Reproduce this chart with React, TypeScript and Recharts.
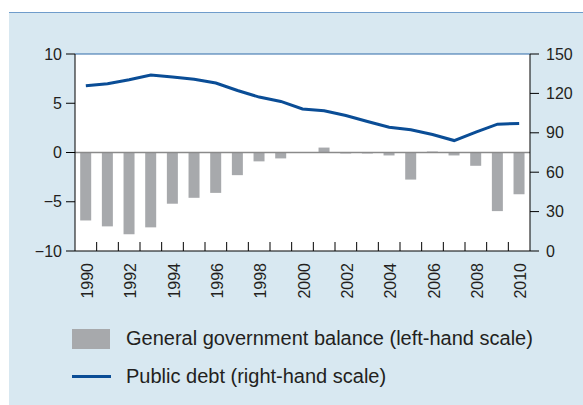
import React from "react";
import {
  ComposedChart, Bar, Line, XAxis, YAxis, CartesianGrid, ReferenceLine, Legend,
} from "recharts";

const years = [
  "1990", "1991", "1992", "1993", "1994", "1995", "1996", "1997", "1998", "1999", "2000",
  "2001", "2002", "2003", "2004", "2005", "2006", "2007", "2008", "2009", "2010",
];
// general government balance, % of GDP (left-hand scale)
const balance = [
  -6.9, -7.5, -8.3, -7.6, -5.2, -4.6, -4.1, -2.3, -0.9, -0.6, 0.0,
  0.5, -0.1, -0.1, -0.3, -2.75, 0.1, -0.3, -1.35, -5.95, -4.25,
];
// public debt, % of GDP (right-hand scale)
const debt = [
  125.8, 127.4, 130.4, 134.0, 132.5, 130.8, 127.9, 122.2, 117.2, 113.9, 108.1,
  106.8, 103.2, 98.6, 94.3, 92.3, 88.7, 84.1, 90.5, 96.6, 97.1,
];
const leftTicks = [-10, -5, 0, 5, 10];
const rightTicks = [0, 30, 60, 90, 120, 150];

const data = years.map((year, i) => ({ year, balance: balance[i], debt: debt[i] }));

const TEXT = "#231f20";
const BAR = "#a7a9ac";
const LINE = "#0a4d96";

const fmt = (v: number) => (v < 0 ? "\u2212" + Math.abs(v) : String(v));

// small inner tick on the left edge of each band, year label on every other band
function YearTick({ x, y, payload, index }: any) {
  const half = payload.offset || 0;
  const ty = y + 12;
  return (
    <g>
      {index > 0 && half > 0 && (
        <line x1={x - half} x2={x - half} y1={y} y2={y - 9} stroke="#000" />
      )}
      {index % 2 === 0 && (
        <text
          x={x}
          y={ty}
          transform={`rotate(-90 ${x} ${ty})`}
          textAnchor="end"
          dy="0.45em"
          fontSize={16}
          fill={TEXT}
        >
          {payload.value}
        </text>
      )}
    </g>
  );
}

function LegendBox() {
  const row: React.CSSProperties = {
    position: "absolute", left: 63, display: "flex", alignItems: "center",
    fontSize: 20, color: TEXT, whiteSpace: "nowrap",
  };
  return (
    <div style={{ position: "relative", width: 574, height: 80 }}>
      <div style={{ ...row, top: 2 }}>
        <span style={{ display: "inline-block", width: 38, height: 20, background: BAR, marginRight: 16 }} />
        <span>General government balance (left-hand scale)</span>
      </div>
      <div style={{ ...row, top: 40 }}>
        <span style={{ display: "inline-block", width: 39, height: 3, background: LINE, marginRight: 15 }} />
        <span>Public debt (right-hand scale)</span>
      </div>
    </div>
  );
}

export default function App() {
  return (
    <div
      style={{
        position: "absolute", left: 9, top: 12, width: 574, height: 392,
        background: "#d8e8f1", borderTop: "1px solid #6f9ccb",
        fontFamily: "'Liberation Sans', Arial, sans-serif",
      }}
    >
      <ComposedChart
        width={574}
        height={392}
        data={data}
        margin={{ top: 41, right: 0, left: 0, bottom: 0 }}
        barCategoryGap="24%"
      >
        <CartesianGrid xAxisId="cat" yAxisId="left" horizontal={false} vertical={false} fill="#ffffff" />
        <XAxis
          xAxisId="cat"
          dataKey="year"
          interval={0}
          height={74}
          tickLine={false}
          tickSize={0}
          tickMargin={0}
          axisLine={{ stroke: "#000" }}
          tick={<YearTick />}
        />
        <YAxis
          yAxisId="left"
          domain={[-10, 10]}
          ticks={leftTicks}
          width={66}
          tickSize={9}
          tickMargin={4}
          tickFormatter={fmt}
          axisLine={{ stroke: "#000" }}
          tickLine={{ stroke: "#000" }}
          tick={{ fontSize: 16, fill: TEXT }}
        />
        <YAxis
          yAxisId="right"
          orientation="right"
          domain={[0, 150]}
          ticks={rightTicks}
          width={53}
          tickSize={9}
          tickMargin={7}
          axisLine={{ stroke: "#000" }}
          tickLine={{ stroke: "#000" }}
          tick={{ fontSize: 16, fill: TEXT }}
        />
        <Bar xAxisId="cat" yAxisId="left" dataKey="balance" name="General government balance (left-hand scale)" fill={BAR} isAnimationActive={false} />
        <ReferenceLine xAxisId="cat" yAxisId="left" y={0} stroke="#8a8a8a" strokeWidth={1.5} />
        <ReferenceLine xAxisId="cat" yAxisId="left" y={10} stroke="#2f6aa8" strokeWidth={1} />
        <Line
          xAxisId="cat"
          yAxisId="right"
          type="linear"
          dataKey="debt"
          name="Public debt (right-hand scale)"
          stroke={LINE}
          strokeWidth={3}
          dot={false}
          isAnimationActive={false}
        />
        <Legend
          verticalAlign="bottom"
          align="left"
          content={<LegendBox />}
          wrapperStyle={{ left: 0, bottom: 0, width: 574, height: 80 }}
        />
      </ComposedChart>
    </div>
  );
}
